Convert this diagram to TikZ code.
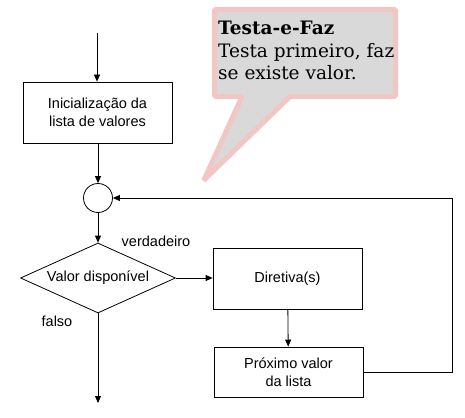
\documentclass[tikz,border=0pt]{standalone}
\usepackage{fontspec}
\setmainfont{DejaVu Serif}
\setsansfont{Liberation Sans}
\usetikzlibrary{shapes.geometric, arrows.meta}

\definecolor{rosa}{HTML}{F2C6C2}
\definecolor{cinza}{HTML}{D9D9D9}

\tikzset{
    passo/.style = {draw, thick, rectangle, minimum width = 149, minimum height = 61,
                    align = center, font = \sffamily\fontsize{14.5}{18}\selectfont},
    juncao/.style = {draw, thick, circle, minimum size = 29, inner sep = 0},
    decisao/.style = {draw, thick, diamond, aspect = 2.2, minimum width = 155, minimum height = 70,
                      inner sep = 0, font = \sffamily\fontsize{14.5}{18}\selectfont},
    rotulo/.style = {font = \sffamily\fontsize{14.5}{18}\selectfont},
    seta/.style = {thick, -{Triangle[length = 7, width = 6]}},
}

\begin{document}
\begin{tikzpicture}[x = 1pt, y = -1pt]
    \useasboundingbox (0, 0) rectangle (465, 417);

    % balao
    \draw [line width = 5, draw = rosa, fill = cinza, rounded corners = 1.5]
        (214.5, 9.5) -- (395.5, 9.5) -- (395.5, 96.5) -- (290, 96.5)
        -- (204, 180) -- (242, 96.5) -- (214.5, 96.5) -- cycle;
    \node (nota) [anchor = north west, align = left, inner sep = 0,
                  font = \fontsize{18.5}{22.5}\selectfont] at (218, 21)
        {\textbf{Testa-e-Faz}\\Testa primeiro, faz\\se existe valor.};

    % fluxo
    \coordinate (inicio) at (97, 33);
    \node (init) [passo] at (97.5, 112.5) {Inicialização da\\lista de valores};
    \node (junta) [juncao] at (98, 198) {};
    \node (teste) [decisao] at (98, 278) {Valor disponível};
    \node (diret) [passo] at (287.5, 278.5) {Diretiva(s)};
    \node (prox) [passo, minimum height = 50] at (288.5, 372) {Próximo valor\\da lista};
    \coordinate (fim) at (98, 403);
    \coordinate (volta) at (452, 198);

    \node (verd) [rotulo] at (156, 241) {verdadeiro};
    \node (falso) [rotulo] at (57, 321) {falso};

    \draw [seta] (inicio) -- (init.north -| inicio);
    \draw [seta] (init.south -| junta) -- (junta);
    \draw [seta] (junta) -- (teste);
    \draw [seta] (teste) -- (fim);
    \draw [seta] (teste.east) -- (diret.west |- teste.east);
    \draw [seta] (diret) -- (prox);
    \draw [seta] (prox.east) -| (volta) -- (junta);

\end{tikzpicture}
\end{document}
